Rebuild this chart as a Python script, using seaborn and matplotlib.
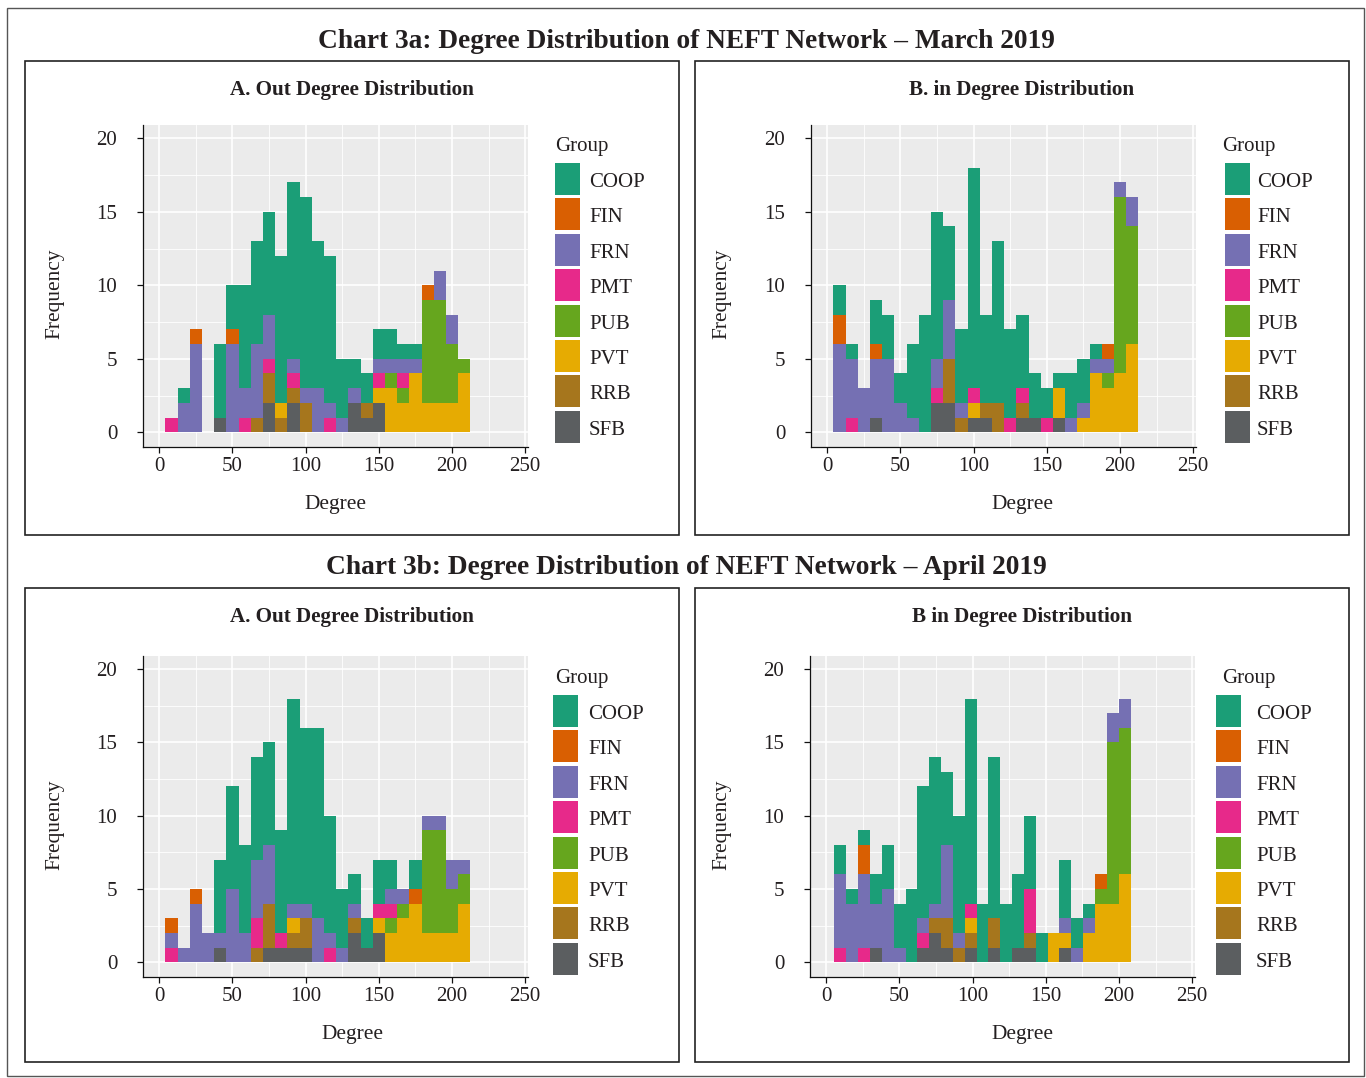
import numpy as np
import pandas as pd
import matplotlib
matplotlib.use("Agg")
import matplotlib.pyplot as plt
import seaborn as sns
from matplotlib.patches import Rectangle

# ---------------- data ----------------
GROUPS = ["COOP", "FIN", "FRN", "PMT", "PUB", "PVT", "RRB", "SFB"]
GROUP_COLORS = ["#1B9E77", "#D95F02", "#7570B3", "#E7298A",
                "#66A61E", "#E6AB02", "#A6761D", "#5B5E60"]
BIN_NO = list(range(1, 26))

# Chart 3a - A. Out degree (March 2019)
A_COOP = [0, 1, 0, 0, 5, 3, 7, 7, 7, 10, 12, 13, 10, 10, 4, 2, 2, 2, 2, 1, 1, 0, 0, 0, 0]
A_FIN  = [0, 0, 1, 0, 0, 1, 0, 0, 0, 0, 0, 0, 0, 0, 0, 0, 0, 0, 0, 0, 0, 1, 0, 0, 0]
A_FRN  = [0, 2, 6, 0, 0, 6, 2, 5, 3, 0, 1, 1, 3, 1, 1, 1, 0, 1, 1, 1, 1, 0, 2, 2, 0]
A_PMT  = [1, 0, 0, 0, 0, 0, 1, 0, 1, 0, 1, 0, 0, 1, 0, 0, 0, 1, 0, 1, 0, 0, 0, 0, 0]
A_PUB  = [0, 0, 0, 0, 0, 0, 0, 0, 0, 0, 0, 0, 0, 0, 0, 0, 0, 0, 1, 1, 0, 7, 7, 4, 1]
A_PVT  = [0, 0, 0, 0, 0, 0, 0, 0, 0, 1, 0, 0, 0, 0, 0, 0, 0, 1, 3, 2, 4, 2, 2, 2, 4]
A_RRB  = [0, 0, 0, 0, 0, 0, 0, 1, 2, 1, 1, 2, 0, 0, 0, 0, 1, 0, 0, 0, 0, 0, 0, 0, 0]
A_SFB  = [0, 0, 0, 0, 1, 0, 0, 0, 2, 0, 2, 0, 0, 0, 0, 2, 1, 2, 0, 0, 0, 0, 0, 0, 0]

# Chart 3a - B. In degree (March 2019)
B_COOP = [2, 1, 0, 3, 3, 2, 5, 8, 10, 5, 5, 15, 6, 11, 6, 5, 3, 2, 1, 3, 3, 1, 0, 0, 0]
B_FIN  = [2, 0, 0, 1, 0, 0, 0, 0, 0, 0, 0, 0, 0, 0, 0, 0, 0, 0, 0, 0, 0, 0, 1, 0, 0]
B_FRN  = [6, 4, 3, 4, 5, 2, 1, 0, 2, 4, 1, 0, 0, 0, 0, 0, 0, 0, 0, 1, 1, 1, 1, 1, 2]
B_PMT  = [0, 1, 0, 0, 0, 0, 0, 0, 1, 0, 0, 1, 0, 0, 1, 1, 0, 1, 0, 0, 0, 0, 0, 0, 0]
B_PUB  = [0, 0, 0, 0, 0, 0, 0, 0, 0, 0, 0, 0, 0, 0, 0, 0, 0, 0, 0, 0, 0, 0, 1, 12, 8]
B_PVT  = [0, 0, 0, 0, 0, 0, 0, 0, 0, 0, 0, 1, 0, 0, 0, 0, 0, 0, 2, 0, 1, 4, 3, 4, 6]
B_RRB  = [0, 0, 0, 0, 0, 0, 0, 0, 0, 3, 1, 0, 1, 2, 0, 1, 0, 0, 0, 0, 0, 0, 0, 0, 0]
B_SFB  = [0, 0, 0, 1, 0, 0, 0, 0, 2, 2, 0, 1, 1, 0, 0, 1, 1, 0, 1, 0, 0, 0, 0, 0, 0]

# Chart 3b - A. Out degree (April 2019)
C_COOP = [0, 0, 0, 0, 5, 7, 6, 7, 7, 7, 14, 12, 13, 8, 4, 2, 2, 3, 2, 0, 2, 0, 0, 0, 0]
C_FIN  = [1, 0, 1, 0, 0, 0, 0, 0, 0, 0, 0, 0, 0, 0, 0, 0, 0, 0, 0, 0, 1, 0, 0, 0, 0]
C_FRN  = [1, 1, 4, 2, 1, 5, 2, 4, 4, 0, 1, 1, 3, 1, 1, 1, 0, 0, 1, 1, 0, 1, 1, 2, 1]
C_PMT  = [1, 0, 0, 0, 0, 0, 0, 2, 0, 1, 0, 0, 0, 1, 0, 0, 0, 1, 1, 0, 0, 0, 0, 0, 0]
C_PUB  = [0, 0, 0, 0, 0, 0, 0, 0, 0, 0, 0, 0, 0, 0, 0, 0, 0, 0, 1, 1, 0, 7, 7, 3, 2]
C_PVT  = [0, 0, 0, 0, 0, 0, 0, 0, 0, 0, 1, 0, 0, 0, 0, 0, 0, 1, 2, 3, 4, 2, 2, 2, 4]
C_RRB  = [0, 0, 0, 0, 0, 0, 0, 1, 3, 0, 1, 2, 0, 0, 0, 1, 0, 0, 0, 0, 0, 0, 0, 0, 0]
C_SFB  = [0, 0, 0, 0, 1, 0, 0, 0, 1, 1, 1, 1, 0, 0, 0, 2, 1, 2, 0, 0, 0, 0, 0, 0, 0]

# Chart 3b - B. In degree (April 2019)
D_COOP = [2, 1, 1, 2, 3, 3, 5, 9, 10, 5, 8, 14, 4, 11, 4, 5, 5, 2, 0, 4, 2, 1, 0, 0, 0]
D_FIN  = [0, 0, 2, 0, 0, 0, 0, 0, 0, 0, 0, 0, 0, 0, 0, 0, 0, 0, 0, 0, 0, 0, 1, 0, 0]
D_FRN  = [5, 4, 5, 3, 5, 1, 0, 1, 1, 5, 1, 0, 0, 0, 0, 0, 0, 0, 0, 1, 1, 1, 0, 2, 2]
D_PMT  = [1, 0, 1, 0, 0, 0, 0, 1, 0, 0, 0, 1, 0, 0, 0, 0, 3, 0, 0, 0, 0, 0, 0, 0, 0]
D_PUB  = [0, 0, 0, 0, 0, 0, 0, 0, 0, 0, 0, 0, 0, 0, 0, 0, 0, 0, 0, 0, 0, 0, 1, 11, 10]
D_PVT  = [0, 0, 0, 0, 0, 0, 0, 0, 0, 0, 0, 1, 0, 0, 0, 0, 0, 0, 2, 1, 0, 2, 4, 4, 6]
D_RRB  = [0, 0, 0, 0, 0, 0, 0, 0, 1, 2, 1, 1, 0, 2, 0, 0, 1, 0, 0, 0, 0, 0, 0, 0, 0]
D_SFB  = [0, 0, 0, 1, 0, 0, 0, 1, 2, 1, 0, 1, 0, 1, 0, 1, 1, 0, 0, 1, 0, 0, 0, 0, 0]

X_TICKS = [0, 50, 100, 150, 200, 250]
Y_TICKS = [0, 5, 10, 15, 20]

MAIN_TITLES = ["Chart 3a: Degree Distribution of NEFT Network \u2013 March 2019",
               "Chart 3b: Degree Distribution of NEFT Network \u2013 April 2019"]
SUB_TITLES = ["A. Out Degree Distribution", "B. in Degree Distribution",
              "A. Out Degree Distribution", "B in Degree Distribution"]
X_LABEL = "Degree"
Y_LABEL = "Frequency"
LEGEND_TITLE = "Group"

# ---------------- figure ----------------
plt.rcParams["font.family"] = ["Liberation Serif", "DejaVu Serif"]
TXT = "#231F20"
W, H = 1366, 1078
fig = plt.figure(figsize=(W / 100, H / 100), dpi=100)
fig.patch.set_facecolor("white")


def fx(x):
    return x / W


def fy(y):
    return 1 - y / H


def frame(x0, y0, x1, y1, lw=1.2, color="#222222"):
    fig.patches.append(Rectangle((fx(x0), fy(y1)), (x1 - x0) / W, (y1 - y0) / H,
                                 transform=fig.transFigure, fill=False,
                                 edgecolor=color, linewidth=lw))


def panel_frame(series, first_edge, width):
    rows = []
    for g, vals in zip(GROUPS, series):
        for k, v in zip(BIN_NO, vals):
            rows.append({"Degree": first_edge + (k - 0.5) * width, "Group": g, "Count": v})
    return pd.DataFrame(rows)


def draw_panel(box, ax_rect, series, first_edge, width, subtitle, ylab_x, xlab_x, leg):
    bx0, by0, bx1, by1 = box
    frame(bx0, by0, bx1, by1)
    l, t, r, b = ax_rect
    ax = fig.add_axes([fx(l), fy(b), (r - l) / W, (b - t) / H])
    df = panel_frame(series, first_edge, width)
    edges = [float(first_edge + width * i) for i in range(len(BIN_NO) + 1)]
    sns.histplot(data=df, x="Degree", weights="Count", hue="Group", hue_order=GROUPS,
                 palette=dict(zip(GROUPS, GROUP_COLORS)), multiple="stack",
                 bins=edges, alpha=1.0, linewidth=0, antialiased=False,
                 legend=False, ax=ax)
    ax.set_facecolor("#EBEBEB")
    ax.set_xlim(-11.1, 251.9)
    ax.set_ylim(-1.0, 20.9)
    ax.set_xticks(X_TICKS)
    ax.set_yticks(Y_TICKS)
    ax.set_xticks([25, 75, 125, 175, 225], minor=True)
    ax.set_yticks([2.5, 7.5, 12.5, 17.5], minor=True)
    ax.grid(which="major", color="white", linewidth=1.2)
    ax.grid(which="minor", color="white", linewidth=0.6)
    ax.set_axisbelow(True)
    for s in ["top", "right"]:
        ax.spines[s].set_visible(False)
    for s in ["left", "bottom"]:
        ax.spines[s].set_color("#111111")
        ax.spines[s].set_linewidth(0.9)
    ax.tick_params(which="major", length=4, width=0.9, color="#111111",
                   labelsize=15, labelcolor=TXT)
    ax.tick_params(axis="x", which="major", pad=3)
    ax.tick_params(axis="y", which="major", pad=14.5)
    ax.tick_params(which="minor", length=0)
    for lab in ax.get_yticklabels():
        lab.set_va("center_baseline")
    ax.set_xlabel("")
    ax.set_ylabel("")
    # subtitle and axis labels
    fig.text(fx((bx0 + bx1) / 2), fy(by0 + 29), subtitle, ha="center", va="center",
             fontsize=15.2, fontweight="bold", color=TXT)
    fig.text(fx(ylab_x), fy((t + b) / 2 + 8), Y_LABEL, rotation=90, ha="center",
             va="center", fontsize=15.4, color=TXT)
    fig.text(fx(xlab_x), fy(b + 58), X_LABEL, ha="center", va="center",
             fontsize=15.4, color=TXT)
    # legend
    tx, ty, kx, ktop, lx = leg
    fig.text(fx(tx), fy(ty), LEGEND_TITLE, ha="left", va="center", fontsize=15, color=TXT)
    for i, (g, c) in enumerate(zip(GROUPS, GROUP_COLORS)):
        top = ktop + i * 35.4
        fig.patches.append(Rectangle((fx(kx), fy(top + 32)), 25 / W, 32 / H,
                                     transform=fig.transFigure, facecolor=c,
                                     edgecolor="none"))
        fig.text(fx(lx), fy(top + 19.5), g, ha="left", va="center", fontsize=15, color=TXT)
    return ax


# outer border
frame(7, 8, 1364, 1076, lw=1.0, color="#555555")

fig.text(fx(686), fy(41), MAIN_TITLES[0], ha="center", va="center",
         fontsize=19.7, fontweight="bold", color=TXT)
fig.text(fx(686), fy(568), MAIN_TITLES[1], ha="center", va="center",
         fontsize=19.7, fontweight="bold", color=TXT)

W1, E1 = 250 / 30, 250 / 60
draw_panel((25, 61, 679, 535), (143, 125, 528, 447),
           [A_COOP, A_FIN, A_FRN, A_PMT, A_PUB, A_PVT, A_RRB, A_SFB], E1, W1,
           SUB_TITLES[0], 55, 335, (555, 147, 555, 163, 589))
draw_panel((695, 61, 1349, 535), (811, 125, 1196, 447),
           [B_COOP, B_FIN, B_FRN, B_PMT, B_PUB, B_PVT, B_RRB, B_SFB], E1, W1,
           SUB_TITLES[1], 722, 1022, (1222, 147, 1225, 163, 1257))
draw_panel((25, 588, 679, 1062), (143, 656, 528, 977),
           [C_COOP, C_FIN, C_FRN, C_PMT, C_PUB, C_PVT, C_RRB, C_SFB], E1, W1,
           SUB_TITLES[2], 55, 352, (555, 678, 553, 695, 588))
draw_panel((695, 588, 1349, 1062), (810, 656, 1195, 977),
           [D_COOP, D_FIN, D_FRN, D_PMT, D_PUB, D_PVT, D_RRB, D_SFB], 5.6, 8.09,
           SUB_TITLES[3], 722, 1022, (1222, 678, 1216, 695, 1256))

fig.savefig("out.png", dpi=100, facecolor="white")
